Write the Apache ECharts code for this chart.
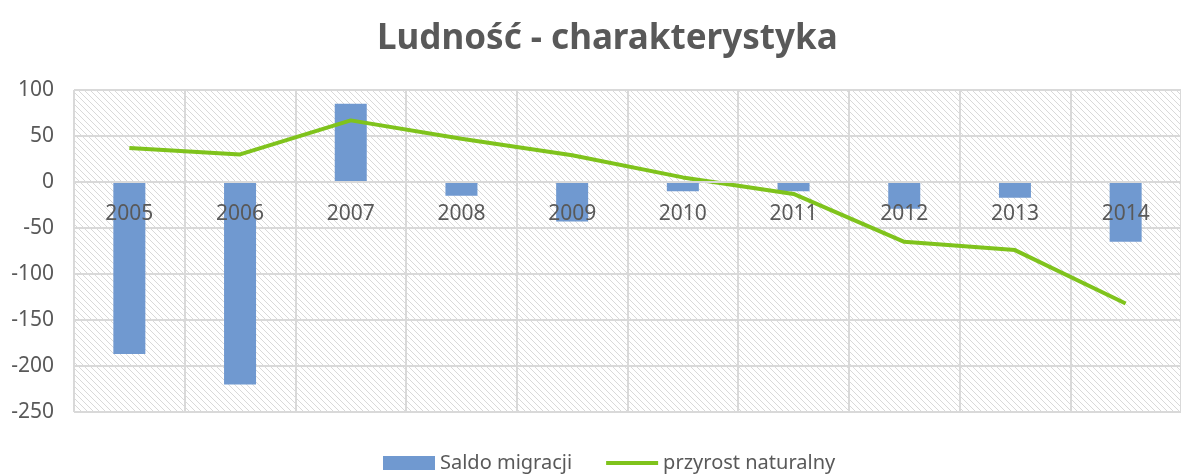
<!DOCTYPE html>
<html>
<head>
<meta charset="utf-8">
<script src="https://cdn.jsdelivr.net/npm/echarts@6/dist/echarts.min.js"></script>
<style>
  html, body { margin: 0; padding: 0; background: #fff; }
  #chart { width: 1181px; height: 475px; }
</style>
</head>
<body>
<div id="chart"></div>
<script>
const years = ['2005', '2006', '2007', '2008', '2009', '2010', '2011', '2012', '2013', '2014'];
const saldoMigracji = [-187, -220, 85, -15, -43, -10, -10, -29, -17, -65];
const przyrostNaturalny = [37, 30, 67, 47, 29, 5, -13, -65, -74, -132];
const yTicks = { min: -250, max: 100, interval: 50 };

const gridTop = 90;
const gridBottom = 63;
const plotHeight = 475 - gridTop - gridBottom;
// category axis sits on the zero line
const zeroOffset = -(0 - yTicks.min) / (yTicks.max - yTicks.min) * plotHeight;

// diagonal hatch for the plot background
const hatch = document.createElement('canvas');
hatch.width = 6;
hatch.height = 6;
const hc = hatch.getContext('2d');
hc.fillStyle = '#ffffff';
hc.fillRect(0, 0, 6, 6);
hc.strokeStyle = '#d9d9d9';
hc.lineWidth = 1;
hc.beginPath();
hc.moveTo(-1, -1); hc.lineTo(7, 7);
hc.moveTo(-7, -1); hc.lineTo(1, 7);
hc.moveTo(5, -1); hc.lineTo(13, 7);
hc.stroke();

const chart = echarts.init(document.getElementById('chart'));
const font = '"Noto Sans", "Open Sans", sans-serif';

chart.setOption({
  animation: false,
  textStyle: { fontFamily: font },
  title: {
    text: 'Ludność - charakterystyka',
    left: 372,
    top: 17,
    textStyle: { fontSize: 35, fontWeight: 'bold', color: '#595959', fontFamily: font }
  },
  legend: {
    bottom: -3,
    left: 378,
    itemGap: 34,
    itemWidth: 52,
    itemHeight: 14,
    textStyle: { fontSize: 20, color: '#595959' },
    data: [
      { name: 'Saldo migracji', icon: 'rect' },
      { name: 'przyrost naturalny', icon: 'path://M0,0 L0,0 M0,5 L52,5 L52,9 L0,9 Z M0,14 L0,14' }
    ]
  },
  grid: {
    left: 74,
    right: -10,
    top: gridTop,
    bottom: gridBottom,
    show: true,
    borderWidth: 0,
    backgroundColor: { image: hatch, repeat: 'repeat' }
  },
  xAxis: [
    {
      type: 'category',
      data: years,
      axisLine: { show: false },
      axisTick: { show: false },
      axisLabel: { show: false },
      splitLine: { show: true, lineStyle: { color: '#d9d9d9', width: 2 } }
    },
    {
      type: 'category',
      data: years,
      position: 'bottom',
      offset: zeroOffset,
      z: 5,
      axisLine: { show: true, lineStyle: { color: '#d9d9d9', width: 2 } },
      axisTick: { show: false },
      axisLabel: { fontSize: 21, color: '#595959', margin: 22 },
      splitLine: { show: false }
    }
  ],
  yAxis: {
    type: 'value',
    min: yTicks.min,
    max: yTicks.max,
    interval: yTicks.interval,
    axisLine: { show: false },
    axisTick: { show: false },
    axisLabel: { fontSize: 21, color: '#595959', margin: 20 },
    splitLine: { lineStyle: { color: '#d9d9d9', width: 2 } }
  },
  series: [
    {
      name: 'Saldo migracji',
      type: 'bar',
      data: saldoMigracji,
      barWidth: 32,
      itemStyle: { color: '#7099d0' }
    },
    {
      name: 'przyrost naturalny',
      type: 'line',
      data: przyrostNaturalny,
      symbol: 'none',
      lineStyle: { color: '#7fc31c', width: 4 },
      itemStyle: { color: '#7fc31c' }
    }
  ]
});
</script>
</body>
</html>
